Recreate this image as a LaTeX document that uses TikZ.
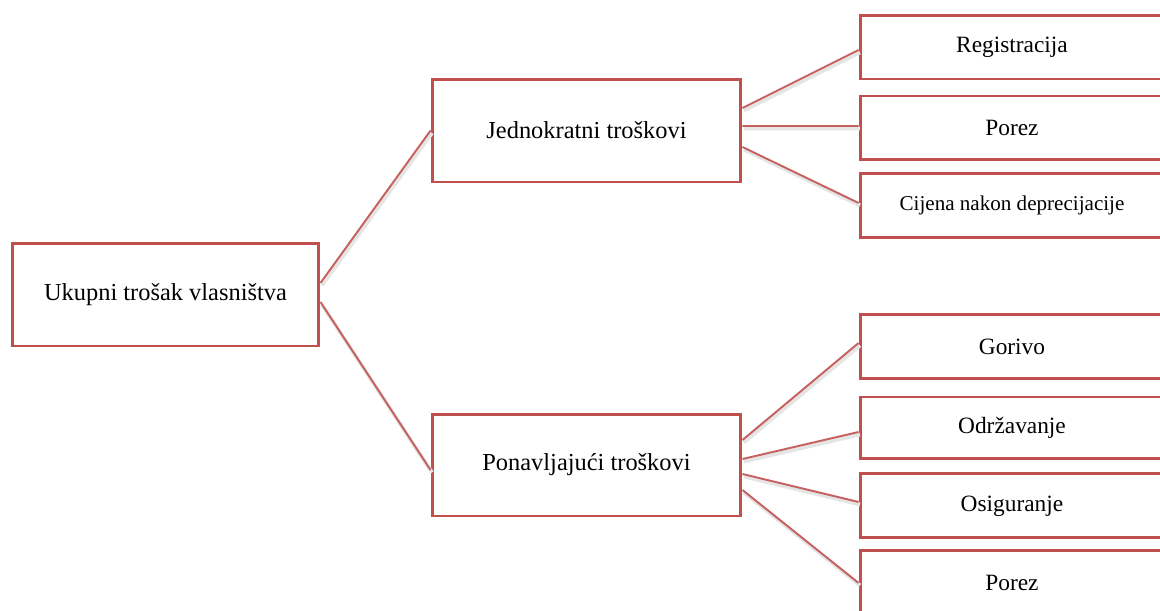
\documentclass[tikz,border=0pt]{standalone}
\usepackage{fontspec}
\setmainfont{Liberation Serif}
\usetikzlibrary{positioning}
\usetikzlibrary{calc}
\definecolor{boxred}{HTML}{C0504D}
\tikzset{box/.style={draw=boxred,line width=1.7pt,fill=white,inner sep=2pt,align=center}}
\tikzset{big/.style={font=\fontsize{13.9}{16}\selectfont}}
\tikzset{leaf/.style={box,font=\fontsize{13.3}{15}\selectfont,minimum width=6.08cm,minimum height=1.28cm}}
\tikzset{ln/.style={draw=boxred!90,line width=1.1pt,preaction={draw=black!10,line width=2.2pt,transform canvas={shift={(0.8pt,-1.4pt)}}}}}

\begin{document}
\begin{tikzpicture}[x=0.02cm,y=-0.02cm]
\useasboundingbox (0,0) rectangle (1160,610);
\clip (0,0) rectangle (1160,610);

\node[box,big,minimum width=6.14cm,minimum height=2.06cm] (U) at (165.5,294.5) {Ukupni trošak vlasništva};
\node[box,big,minimum width=6.18cm,minimum height=2.06cm] (J) at (586.5,130.5) {Jednokratni troškovi};
\node[box,big,minimum width=6.18cm,minimum height=2.04cm] (P) at (586.5,465) {Ponavljajući troškovi};

\begin{scope}[on grid]
\node[leaf] (Reg) at (1012,47) {Registracija};
\node[leaf] (Por) [below = 1.62cm of Reg] {Porez};
\node[leaf,font=\fontsize{12}{14}\selectfont] (Cij) [below = 1.55cm of Por] {Cijena nakon deprecijacije};

\node[leaf] (Gor) at (1012,346.5) {Gorivo};
\node[leaf,minimum height=1.24cm] (Odr) [below = 1.63cm of Gor] {Održavanje};
\node[leaf] (Osi) [below = 1.56cm of Odr] {Osiguranje};
\node[leaf] (Por2) [below = 1.54cm of Osi] {Porez};
\end{scope}

\draw[ln] ($(U.east)+(0,-11.5)$) -- (J.west);
\draw[ln] ($(U.east)+(0,7.5)$) -- ($(P.west)+(0,5)$);

\draw[ln] ($(J.east)+(0,-22.5)$) -- ($(Reg.west)+(0,3)$);
\draw[ln] ($(J.east)+(0,-4.5)$) -- ($(Por.west)+(0,-2)$);
\draw[ln] ($(J.east)+(0,16.5)$) -- ($(Cij.west)+(0,-2.5)$);

\draw[ln] ($(P.east)+(0,-25)$) -- ($(Gor.west)+(0,-3.5)$);
\draw[ln] ($(P.east)+(0,-6)$) -- ($(Odr.west)+(0,4)$);
\draw[ln] ($(P.east)+(0,9)$) -- ($(Osi.west)+(0,-4)$);
\draw[ln] ($(P.east)+(0,25)$) -- (Por2.west);
\end{tikzpicture}
\end{document}
